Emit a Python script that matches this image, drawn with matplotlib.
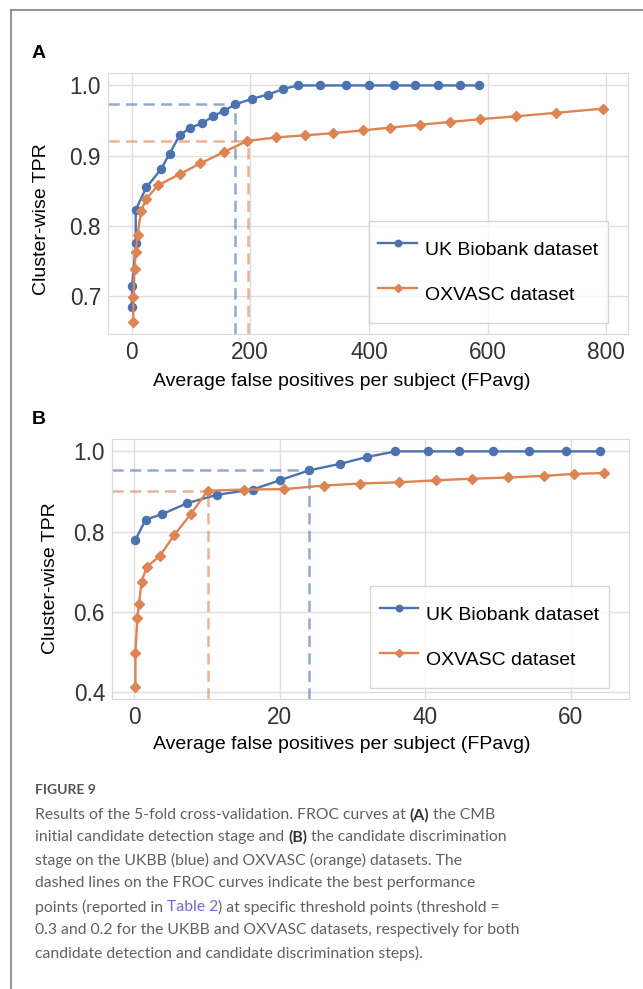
import numpy as np
import matplotlib
matplotlib.use("Agg")
import matplotlib.pyplot as plt
from matplotlib.lines import Line2D

# Panel A: initial candidate detection stage
a_ukbb_fp = [0, 1, 7, 7, 25, 50, 64, 81, 99, 119, 137, 156, 175, 203, 230, 256,
             280, 318, 362, 401, 442, 478, 516, 553, 586]
a_ukbb_tpr = [0.684, 0.714, 0.775, 0.823, 0.855, 0.881, 0.903, 0.929, 0.940, 0.946,
              0.956, 0.964, 0.973, 0.981, 0.987, 0.995, 1.0, 1.0, 1.0, 1.0, 1.0,
              1.0, 1.0, 1.0, 1.0]
a_ox_fp = [3, 3, 5, 7, 10, 16, 25, 45, 82, 116, 155, 195, 244, 292, 339, 390, 436,
           486, 537, 588, 648, 715, 795]
a_ox_tpr = [0.663, 0.699, 0.738, 0.763, 0.787, 0.821, 0.839, 0.858, 0.874, 0.889,
            0.905, 0.921, 0.926, 0.929, 0.932, 0.936, 0.940, 0.944, 0.948, 0.952,
            0.956, 0.961, 0.967]
a_best = {"ukbb": (175, 0.974), "ox": (195.5, 0.921)}

# Panel B: candidate discrimination stage
b_ukbb_fp = [0.2, 1.6, 3.9, 7.3, 11.4, 16.3, 20.0, 24.1, 28.3, 32.0, 35.9, 40.4,
             44.7, 49.3, 54.2, 59.3, 64.0]
b_ukbb_tpr = [0.780, 0.830, 0.844, 0.871, 0.892, 0.905, 0.928, 0.953, 0.969, 0.986,
              1.0, 1.0, 1.0, 1.0, 1.0, 1.0, 1.0]
b_ox_fp = [0.2, 0.2, 0.46, 0.68, 1.05, 1.74, 3.56, 5.5, 7.8, 10.1, 15.1, 20.6, 26.1,
           31.0, 36.4, 41.5, 46.4, 51.4, 56.3, 60.4, 64.6]
b_ox_tpr = [0.413, 0.498, 0.585, 0.621, 0.676, 0.712, 0.740, 0.791, 0.844, 0.902,
            0.905, 0.906, 0.915, 0.920, 0.923, 0.928, 0.932, 0.935, 0.939, 0.944,
            0.946]
b_best = {"ukbb": (24.06, 0.953), "ox": (10.14, 0.902)}

BLUE = "#4C72B0"
ORANGE = "#DD8452"
plt.rcParams['font.family'] = ['Liberation Sans', 'DejaVu Sans']

fig = plt.figure(figsize=(6.43, 9.89), dpi=100)

# page frame (top + left border)
fig.add_artist(Line2D([11 / 643, 11 / 643], [0, 1 - 10 / 989], color="#8a8a8a", lw=1.3))
fig.add_artist(Line2D([11 / 643, 1], [1 - 10 / 989, 1 - 10 / 989], color="#8a8a8a", lw=1.3))


def froc_panel(ax, ux, uy, ox, oy, best, xticks, yticks, xlab_pos, ylab_pos):
    ax.plot(ux, uy, '-o', color=BLUE, lw=1.7, ms=5.8, label='UK Biobank dataset', zorder=3)
    ax.plot(ox, oy, '-D', color=ORANGE, lw=1.7, ms=5.2, label='OXVASC dataset', zorder=3)
    ax.set_xticks(xticks)
    ax.set_yticks(yticks)
    ax.margins(0.05)
    ax.autoscale_view()
    x0 = ax.get_xlim()[0]
    y0 = ax.get_ylim()[0]
    for key, col in (("ukbb", BLUE), ("ox", ORANGE)):
        bx, by = best[key]
        ax.plot([x0, bx], [by, by], color=col, alpha=0.6, lw=1.8, dashes=(4.5, 2.5), zorder=2)
        ax.plot([bx, bx], [y0, by], color=col, alpha=0.6, lw=1.8, dashes=(4.5, 2.5), zorder=2)
    ax.set_xlim(x0, ax.get_xlim()[1])
    ax.set_ylim(y0, ax.get_ylim()[1])
    ax.grid(color="#dedede", lw=1)
    ax.set_axisbelow(True)
    for s in ax.spines.values():
        s.set_color("#d8d8d8")
    ax.tick_params(length=0, labelsize=16.3, labelcolor="#333333", pad=5)
    ax.set_xlabel('Average false positives per subject (FPavg)', fontsize=14)
    ax.set_ylabel('Cluster-wise TPR', fontsize=14)
    ax.xaxis.set_label_coords(*xlab_pos)
    ax.yaxis.set_label_coords(*ylab_pos)
    leg = ax.legend(loc='lower right', fontsize=14, labelspacing=0.4, borderpad=0.5,
                    handlelength=2.0, handleheight=2.6, handletextpad=0.4,
                    borderaxespad=0, fancybox=False, edgecolor="#cccccc",
                    bbox_to_anchor=(0.9615, 0.042), markerscale=0.8)
    leg.get_frame().set_linewidth(1.0)


ax_a = fig.add_axes([108 / 643, 1 - 334 / 989, 520 / 643, 261 / 989])
froc_panel(ax_a, a_ukbb_fp, a_ukbb_tpr, a_ox_fp, a_ox_tpr, a_best,
           [0, 200, 400, 600, 800], [0.7, 0.8, 0.9, 1.0],
           (0.449, -0.149), (-0.112, 0.44))

ax_b = fig.add_axes([112 / 643, 1 - 699 / 989, 517 / 643, 260 / 989])
froc_panel(ax_b, b_ukbb_fp, b_ukbb_tpr, b_ox_fp, b_ox_tpr, b_best,
           [0, 20, 40, 60], [0.4, 0.6, 0.8, 1.0],
           (0.444, -0.142), (-0.1025, 0.465))

fig.text(32 / 643, 1 - 53 / 989, 'A', fontsize=14, fontweight='bold', va='center')
fig.text(32 / 643, 1 - 419 / 989, 'B', fontsize=14, fontweight='bold', va='center')

# caption
CAP = "#606060"
cap_font = ['Lato', 'DejaVu Sans']
fig.text(35 / 643, 1 - 790 / 989, 'FIGURE 9', fontsize=10, fontweight='bold',
         color="#555555", family=cap_font, va='center')

caption_lines = [
    [("Results of the 5-fold cross-validation. FROC curves at ", None), ("(A)", "bold"),
     (" the CMB", None)],
    [("initial candidate detection stage and ", None), ("(B)", "bold"),
     (" the candidate discrimination", None)],
    [("stage on the UKBB (blue) and OXVASC (orange) datasets. The", None)],
    [("dashed lines on the FROC curves indicate the best performance", None)],
    [("points (reported in ", None), ("Table 2", "link"),
     (") at specific threshold points (threshold =", None)],
    [("0.3 and 0.2 for the UKBB and OXVASC datasets, respectively for both", None)],
    [("candidate detection and candidate discrimination steps).", None)],
]
line_y = [815, 837, 860, 883, 907, 930, 953]

for segs, yp in zip(caption_lines, line_y):
    prev = None
    for txt, kind in segs:
        kw = dict(fontsize=11.3, family=cap_font, color=CAP, va='center', ha='left')
        if kind == "bold":
            kw['fontweight'] = 'bold'
            kw['color'] = "#333333"
        elif kind == "link":
            kw['color'] = "#6b6bdc"
        if prev is None:
            prev = fig.text(35 / 643, 1 - yp / 989, txt, **kw)
        else:
            prev = fig.add_artist(plt.Annotation(txt, xy=(1, 0.5), xycoords=prev,
                                                 **kw))

fig.savefig('out.png', dpi=100)
